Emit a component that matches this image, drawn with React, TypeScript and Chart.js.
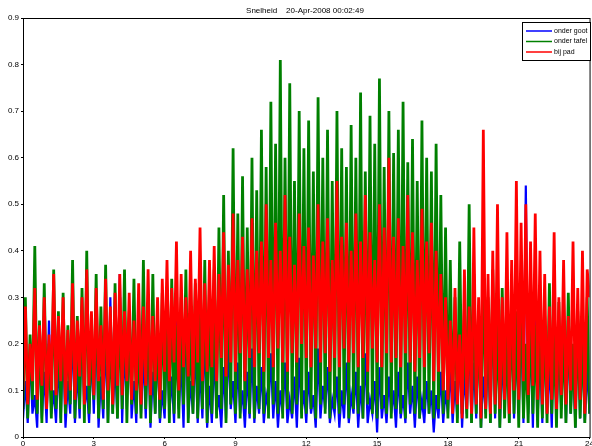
import React, { useEffect, useRef } from "react";
import { Chart, registerables } from "chart.js";
Chart.register(...registerables);

const title = "Snelheid    20-Apr-2008 00:02:49";
const seriesNames = ["onder goot", "onder tafel", "bij pad"];
const seriesColors = ["#0000ff", "#008000", "#ff0000"];
const seriesWidths = [2.2, 2.8, 2.8];
const xTicks = [0, 3, 6, 9, 12, 15, 18, 21, 24];
const yTicks = [0, 0.1, 0.2, 0.3, 0.4, 0.5, 0.6, 0.7, 0.8, 0.9];
const hours = Array.from({ length: 241 }, (_, i) => i / 10);

const onderGoot = [
0.04,0.12,0.03,0.18,0.05,0.09,0.02,0.22,0.04,0.14,0.03,0.25,0.05,0.1,0.03,0.17,0.04,0.2,0.02,0.12,
0.05,0.24,0.03,0.15,0.04,0.28,0.06,0.11,0.03,0.19,0.05,0.26,0.02,0.13,0.04,0.22,0.03,0.3,0.05,0.16,
0.04,0.35,0.03,0.2,0.06,0.27,0.04,0.12,0.03,0.3,0.05,0.18,0.04,0.24,0.02,0.14,0.05,0.2,0.03,0.1,
0.04,0.22,0.05,0.13,0.03,0.25,0.06,0.17,0.02,0.28,0.04,0.12,0.05,0.2,0.03,0.15,0.04,0.23,0.02,0.11,
0.03,0.18,0.05,0.09,0.02,0.15,0.04,0.2,0.06,0.12,0.03,0.16,0.05,0.1,0.02,0.14,0.04,0.19,0.03,0.11,
0.05,0.15,0.03,0.09,0.06,0.18,0.04,0.12,0.02,0.1,0.05,0.16,0.03,0.08,0.04,0.13,0.02,0.17,0.05,0.1,
0.03,0.14,0.05,0.09,0.02,0.19,0.04,0.11,0.06,0.15,0.03,0.08,0.05,0.13,0.02,0.1,0.04,0.16,0.03,0.09,
0.05,0.14,0.02,0.11,0.04,0.18,0.03,0.08,0.05,0.12,0.01,0.15,0.04,0.09,0.03,0.13,0.05,0.1,0.02,0.14,
0.04,0.09,0.03,0.16,0.05,0.11,0.02,0.13,0.04,0.08,0.03,0.12,0.05,0.1,0.01,0.09,0.04,0.14,0.03,0.1,
0.05,0.15,0.03,0.12,0.04,0.2,0.02,0.14,0.05,0.22,0.03,0.16,0.04,0.25,0.02,0.13,0.05,0.19,0.03,0.28,
0.04,0.3,0.02,0.18,0.05,0.24,0.03,0.35,0.04,0.2,0.06,0.27,0.03,0.54,0.05,0.22,0.02,0.3,0.04,0.19,
0.03,0.25,0.05,0.16,0.02,0.28,0.04,0.2,0.06,0.33,0.03,0.22,0.05,0.18,0.02,0.26,0.04,0.2,0.03,0.15,
0.05];

const onderTafel = [
0.06,0.3,0.04,0.22,0.08,0.41,0.05,0.25,0.03,0.33,0.07,0.2,0.04,0.36,0.06,0.27,0.03,0.31,0.05,0.24,
0.07,0.38,0.04,0.26,0.06,0.32,0.03,0.4,0.05,0.22,0.08,0.35,0.04,0.28,0.06,0.37,0.03,0.25,0.05,0.33,
0.04,0.3,0.06,0.36,0.03,0.27,0.07,0.34,0.05,0.22,0.04,0.38,0.06,0.29,0.03,0.35,0.05,0.26,0.04,0.31,
0.06,0.28,0.03,0.34,0.05,0.24,0.04,0.3,0.07,0.36,0.03,0.27,0.05,0.33,0.04,0.29,0.06,0.38,0.03,0.32,
0.05,0.36,0.04,0.45,0.06,0.52,0.03,0.4,0.07,0.62,0.05,0.48,0.04,0.56,0.06,0.45,0.05,0.6,0.04,0.53,
0.06,0.66,0.05,0.58,0.04,0.72,0.07,0.63,0.05,0.81,0.04,0.6,0.06,0.76,0.05,0.55,0.07,0.7,0.04,0.62,
0.05,0.68,0.06,0.57,0.04,0.73,0.07,0.6,0.05,0.66,0.04,0.55,0.06,0.7,0.05,0.62,0.07,0.58,0.04,0.67,
0.06,0.6,0.05,0.74,0.04,0.57,0.07,0.69,0.05,0.63,0.04,0.77,0.06,0.58,0.05,0.7,0.04,0.61,0.06,0.66,
0.05,0.72,0.04,0.59,0.07,0.64,0.05,0.55,0.04,0.68,0.06,0.6,0.05,0.57,0.04,0.63,0.06,0.52,0.05,0.45,
0.04,0.38,0.06,0.3,0.03,0.42,0.05,0.28,0.04,0.5,0.03,0.35,0.05,0.27,0.02,0.4,0.04,0.3,0.03,0.36,
0.05,0.25,0.02,0.32,0.04,0.22,0.03,0.3,0.05,0.27,0.02,0.35,0.04,0.2,0.03,0.28,0.05,0.24,0.02,0.3,
0.04,0.26,0.03,0.33,0.05,0.22,0.02,0.29,0.04,0.24,0.03,0.31,0.05,0.2,0.02,0.27,0.04,0.23,0.03,0.3,
0.05];

const bijPad = [
0.1,0.28,0.07,0.2,0.12,0.32,0.08,0.24,0.11,0.3,0.06,0.22,0.1,0.35,0.09,0.26,0.12,0.3,0.07,0.23,
0.1,0.33,0.08,0.25,0.13,0.3,0.07,0.36,0.11,0.27,0.09,0.32,0.12,0.24,0.08,0.34,0.1,0.28,0.07,0.31,
0.11,0.35,0.09,0.27,0.12,0.31,0.08,0.25,0.1,0.33,0.07,0.28,0.11,0.36,0.09,0.26,0.12,0.3,0.08,0.34,
0.14,0.38,0.12,0.32,0.16,0.42,0.1,0.35,0.15,0.3,0.13,0.4,0.11,0.34,0.16,0.45,0.12,0.33,0.14,0.38,
0.15,0.41,0.12,0.35,0.17,0.44,0.13,0.37,0.16,0.48,0.14,0.38,0.18,0.43,0.12,0.36,0.17,0.47,0.15,0.4,
0.18,0.42,0.14,0.5,0.17,0.38,0.15,0.46,0.19,0.4,0.16,0.52,0.14,0.43,0.18,0.37,0.16,0.48,0.2,0.41,
0.17,0.45,0.15,0.39,0.19,0.5,0.16,0.42,0.18,0.47,0.14,0.38,0.17,0.55,0.15,0.43,0.19,0.46,0.16,0.4,
0.18,0.48,0.15,0.42,0.17,0.52,0.14,0.44,0.19,0.38,0.16,0.5,0.15,0.45,0.18,0.6,0.16,0.43,0.17,0.47,
0.15,0.41,0.18,0.52,0.16,0.44,0.14,0.38,0.17,0.49,0.15,0.42,0.18,0.46,0.12,0.4,0.14,0.35,0.1,0.3,
0.08,0.25,0.05,0.32,0.07,0.22,0.04,0.36,0.06,0.28,0.05,0.45,0.07,0.3,0.04,0.66,0.06,0.35,0.05,0.4,
0.07,0.5,0.06,0.3,0.08,0.44,0.05,0.38,0.1,0.55,0.08,0.46,0.12,0.5,0.09,0.42,0.11,0.48,0.08,0.4,
0.07,0.35,0.05,0.28,0.08,0.44,0.06,0.3,0.09,0.38,0.07,0.26,0.1,0.42,0.06,0.32,0.08,0.4,0.05,0.36,
0.3];

const FONT = "Liberation Sans";

export default function App() {
  const ref = useRef<HTMLCanvasElement>(null);
  useEffect(() => {
    const all = [onderGoot, onderTafel, bijPad];
    const decor = {
      id: "decor",
      afterDraw(chart: any) {
        const { ctx, chartArea: a } = chart;
        ctx.save();
        ctx.strokeStyle = "#000";
        ctx.lineWidth = 1;
        ctx.strokeRect(a.left + 0.5, a.top + 0.5, a.right - a.left, a.bottom - a.top);
        ctx.fillStyle = "#000";
        ctx.font = `8px ${FONT}`;
        ctx.textAlign = "center";
        ctx.textBaseline = "bottom";
        ctx.fillText(title, 305, 15);
        const lx = 522, ly = 22, lw = 68, lh = 38;
        ctx.fillStyle = "#fff";
        ctx.fillRect(lx, ly, lw, lh);
        ctx.strokeRect(lx + 0.5, ly + 0.5, lw, lh);
        ctx.font = `7px ${FONT}`;
        ctx.textAlign = "left";
        ctx.textBaseline = "middle";
        seriesNames.forEach((n, i) => {
          const y = ly + 9 + i * 10.5;
          ctx.strokeStyle = seriesColors[i];
          ctx.lineWidth = 1.5;
          ctx.beginPath();
          ctx.moveTo(lx + 4, y);
          ctx.lineTo(lx + 30, y);
          ctx.stroke();
          ctx.fillStyle = "#000";
          ctx.fillText(n, lx + 32, y);
        });
        ctx.restore();
      },
    };
    const chart = new Chart(ref.current!, {
      type: "line",
      data: {
        labels: hours,
        datasets: all.map((d, i) => ({
          label: seriesNames[i],
          data: d.map((v, j) => ({ x: hours[j], y: v })),
          borderColor: seriesColors[i],
          borderWidth: seriesWidths[i],
          borderJoinStyle: "miter" as const,
          pointRadius: 0,
          tension: 0,
          order: 3 - i,
        })),
      },
      options: {
        animation: false,
        responsive: false,
        layout: { padding: { top: 18, right: 0, left: 0, bottom: 0 } },
        plugins: { legend: { display: false }, tooltip: { enabled: false } },
        scales: {
          x: {
            type: "linear",
            min: 0,
            max: 24,
            afterBuildTicks: (s: any) => { s.ticks = xTicks.map((v) => ({ value: v })); },
            afterFit: (s: any) => { s.height = 9; },
            grid: { drawOnChartArea: false, tickLength: 2, color: "#000" },
            border: { color: "#000" },
            ticks: { font: { family: FONT, size: 8 }, color: "#000", padding: 0, maxRotation: 0 },
          },
          y: {
            min: 0,
            max: 0.9,
            afterBuildTicks: (s: any) => { s.ticks = yTicks.map((v) => ({ value: v })); },
            afterFit: (s: any) => { s.width = 23; },
            grid: { drawOnChartArea: false, tickLength: 2, color: "#000" },
            border: { color: "#000" },
            ticks: { font: { family: FONT, size: 8 }, color: "#000", padding: 2, callback: (v: any) => String(v) },
          },
        },
      },
      plugins: [decor],
    });
    return () => chart.destroy();
  }, []);
  return (
    <canvas
      ref={ref}
      width={594}
      height={446}
      style={{ position: "absolute", left: 0, top: 0, width: 594, height: 446, background: "#fff" }}
    />
  );
}
